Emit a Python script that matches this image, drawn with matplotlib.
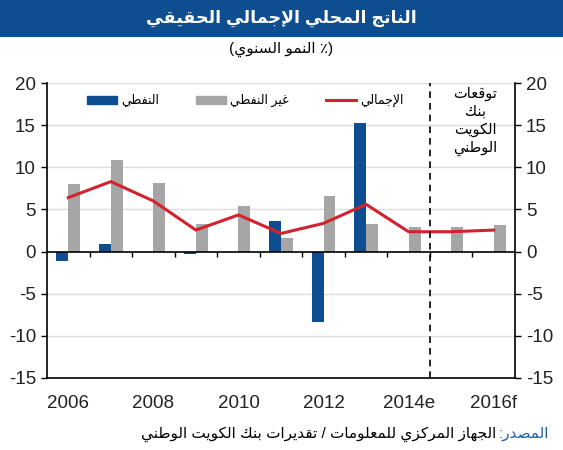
import matplotlib
matplotlib.use('Agg')
import matplotlib.pyplot as plt
from matplotlib.patches import Patch, Rectangle
from matplotlib.lines import Line2D
import numpy as np

# ---- data (annual growth, %) ----
years = ['2006', '2007', '2008', '2009', '2010', '2011', '2012', '2013', '2014', '2015', '2016']
xlabels = ['2006', '2008', '2010', '2012', '2014e', '2016f']
oil = [-1.1, 0.9, 0.0, -0.3, 0.0, 3.6, -8.4, 15.2, 0.0, 0.0, 0.0]
non_oil = [8.0, 10.9, 8.1, 3.3, 5.45, 1.65, 6.6, 3.25, 2.95, 2.95, 3.15]
total = [6.4, 8.3, 6.0, 2.55, 4.35, 2.15, 3.35, 5.6, 2.35, 2.35, 2.55]
forecast_from = '2015'

BLUE = '#0E4D8F'
GRAY = '#A6A6A6'
RED = '#D3212D'

# ---- minimal Arabic shaping (presentation forms) + visual order ----
_DUAL = {'ب': 0xFE8F, 'ت': 0xFE95, 'ث': 0xFE99, 'ج': 0xFE9D, 'ح': 0xFEA1, 'خ': 0xFEA5,
         'س': 0xFEB1, 'ش': 0xFEB5, 'ص': 0xFEB9, 'ض': 0xFEBD, 'ط': 0xFEC1, 'ظ': 0xFEC5,
         'ع': 0xFEC9, 'غ': 0xFECD, 'ف': 0xFED1, 'ق': 0xFED5, 'ك': 0xFED9, 'ل': 0xFEDD,
         'م': 0xFEE1, 'ن': 0xFEE5, 'ه': 0xFEE9, 'ي': 0xFEF1, 'ئ': 0xFE89}
_RIGHT = {'ا': 0xFE8D, 'أ': 0xFE83, 'إ': 0xFE87, 'آ': 0xFE81, 'د': 0xFEA9, 'ذ': 0xFEAB,
          'ر': 0xFEAD, 'ز': 0xFEAF, 'و': 0xFEED, 'ى': 0xFEEF, 'ة': 0xFE93, 'ؤ': 0xFE85}
_LAMALEF = {'ا': 0xFEFB, 'أ': 0xFEF7, 'إ': 0xFEF9, 'آ': 0xFEF5}


def _joining(c):
    return c in _DUAL or c in _RIGHT


def ar(text):
    out = []
    i = 0
    n = len(text)
    while i < n:
        c = text[i]
        prev = text[i - 1] if i > 0 else ''
        nxt = text[i + 1] if i + 1 < n else ''
        p = prev in _DUAL
        if c == 'ل' and nxt in _LAMALEF:
            out.append(chr(_LAMALEF[nxt] + (1 if p else 0)))
            i += 2
            continue
        if c in _DUAL:
            q = _joining(nxt)
            off = 3 if (p and q) else 1 if p else 2 if q else 0
            out.append(chr(_DUAL[c] + off))
        elif c in _RIGHT:
            out.append(chr(_RIGHT[c] + (1 if p else 0)))
        else:
            out.append(c)
        i += 1
    return ''.join(out[::-1])


plt.rcParams['font.family'] = ['Liberation Sans', 'DejaVu Sans']
plt.rcParams['axes.unicode_minus'] = False

fig = plt.figure(figsize=(5.63, 4.5), dpi=100)

# title bar
fig.patches.append(Rectangle((0, 1 - 37 / 450), 1, 37 / 450, transform=fig.transFigure,
                             facecolor=BLUE, edgecolor='none', zorder=0))
fig.text(0.5, 1 - 18 / 450, ar('الناتج المحلي الإجمالي الحقيقي'), color='white',
         fontsize=12.5, fontweight='bold', ha='center', va='center')
fig.text(0.5, 1 - 49 / 450, '(' + ar('النمو السنوي') + ' ٪)', color='black',
         fontsize=11, ha='center', va='center')

ax = fig.add_axes([47 / 563, 1 - 378 / 450, 468 / 563, 295 / 450])
x = np.arange(len(years))
w = 0.28
ax.bar(x - w / 2, oil, w, color=BLUE, zorder=3)
ax.bar(x + w / 2, non_oil, w, color=GRAY, zorder=3)
ax.plot(x, total, color=RED, lw=2.2, zorder=4)

ax.set_xlim(-0.5, len(years) - 0.5)
ax.set_ylim(-15, 20)
ax.set_yticks(np.arange(-15, 21, 5))
for yv in np.arange(-10, 21, 5):
    if yv != 0:
        ax.axhline(yv, color='#DCDCDC', lw=1, zorder=1)
ax.axhline(0, color='black', lw=1.2, zorder=5)
bounds = np.arange(len(years) + 1) - 0.5
ax.vlines(bounds[1:-1], -0.65, 0, color='black', lw=1, zorder=5)
ax.axvline(years.index(forecast_from) - 0.5, color='black', lw=1.2, ls=(0, (4, 3)), zorder=5)

ax.set_xticks(x[::2])
ax.set_xticklabels(xlabels)
ax.tick_params(axis='x', length=0, pad=12, labelsize=13.5, labelcolor='#222222')
ax.tick_params(axis='y', direction='out', length=4, width=1, labelsize=13.5,
               right=True, labelright=True, pad=4, labelcolor='#222222')
ax.spines['top'].set_visible(False)
for s in ['left', 'right', 'bottom']:
    ax.spines[s].set_linewidth(1.2)

handles = [Patch(color=BLUE), Patch(color=GRAY), Line2D([], [], color=RED, lw=2.2)]
labels = [ar('النفطي'), ar('غير النفطي'), ar('الإجمالي')]
ax.legend(handles, labels, ncol=3, loc='center left', bbox_to_anchor=(0.062, 0.94),
          frameon=False, fontsize=9, handlelength=2.4, handleheight=0.6,
          handletextpad=0.3, columnspacing=3.0)

ax.text(0.915, 0.987, '\n'.join(ar(s) for s in ['توقعات', 'بنك', 'الكويت', 'الوطني']),
        transform=ax.transAxes, ha='center', va='top', fontsize=10.5, linespacing=1.32)

# source line
src_y = 1 - 434 / 450
t1 = fig.text(549 / 563, src_y, ':' + ar('المصدر'), color='#1F5FA8', fontsize=11,
              ha='right', va='center')
fig.canvas.draw()
bb = t1.get_window_extent()
fig.text(bb.x0 / fig.bbox.width - 0.004, src_y,
         ar('الجهاز المركزي للمعلومات / تقديرات بنك الكويت الوطني'),
         color='black', fontsize=11, ha='right', va='center')

fig.savefig('out.png', dpi=100)
